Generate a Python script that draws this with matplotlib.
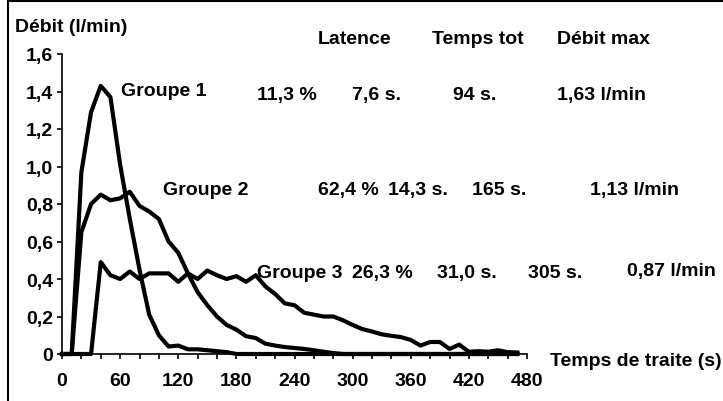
import numpy as np
import matplotlib
matplotlib.use("Agg")
import matplotlib.pyplot as plt
from matplotlib.patches import Rectangle

plt.rcParams['font.family'] = ['Liberation Sans', 'DejaVu Sans']
plt.rcParams['font.weight'] = 'bold'

# time (s), one reading every 10 s
temps = list(range(0, 480, 10))

groupe1 = [0, 0, 0.97, 1.29, 1.43, 1.37, 1.01, 0.72, 0.45, 0.21,
           0.10, 0.04, 0.045, 0.025, 0.025, 0.02, 0.015, 0.01, 0, 0,
           0, 0, 0, 0, 0, 0, 0, 0, 0, 0,
           0, 0, 0, 0, 0, 0, 0, 0, 0, 0,
           0, 0, 0, 0, 0, 0, 0, 0]
groupe2 = [0, 0, 0.65, 0.80, 0.85, 0.82, 0.83, 0.865, 0.79, 0.76,
           0.72, 0.60, 0.54, 0.43, 0.33, 0.26, 0.20, 0.155, 0.13, 0.095,
           0.085, 0.055, 0.045, 0.037, 0.032, 0.027, 0.02, 0.012, 0.005, 0,
           0, 0, 0, 0, 0, 0, 0, 0, 0, 0,
           0, 0, 0, 0, 0, 0, 0, 0]
groupe3 = [0, 0, 0, 0, 0.49, 0.42, 0.40, 0.44, 0.40, 0.43,
           0.43, 0.43, 0.385, 0.43, 0.40, 0.445, 0.42, 0.40, 0.415, 0.385,
           0.42, 0.36, 0.32, 0.27, 0.26, 0.22, 0.21, 0.20, 0.20, 0.18,
           0.155, 0.133, 0.12, 0.105, 0.097, 0.09, 0.075, 0.045, 0.064, 0.064,
           0.027, 0.05, 0.012, 0.015, 0.012, 0.02, 0.01, 0.008]

entetes = ["Latence", "Temps tot", "Débit max"]
noms = ["Groupe 1", "Groupe 2", "Groupe 3"]
pourcent = ["11,3 %", "62,4 %", "26,3 %"]
latence = ["7,6 s.", "14,3 s.", "31,0 s."]
temps_tot = ["94 s.", "165 s.", "305 s."]
debit_max = ["1,63 l/min", "1,13 l/min", "0,87 l/min"]

W, H = 723, 402
FS = 14
fig = plt.figure(figsize=(W / 100, H / 100), dpi=100)
ax = fig.add_axes([62 / W, 1 - 355 / H, 465 / W, 300 / H])

for serie in (groupe1, groupe2, groupe3):
    ax.plot(temps, serie, color='black', lw=3, clip_on=False)

ax.set_xlim(0, 480)
ax.set_ylim(0, 1.6)
ax.set_xticks(range(0, 481, 60))
ax.set_xticks(range(0, 481, 20), minor=True)
ax.set_yticks(np.arange(0, 1.61, 0.2))
ax.set_yticklabels(["0"] + [f"{v:.1f}".replace(".", ",") for v in np.arange(0.2, 1.61, 0.2)])
for s in ['top', 'right']:
    ax.spines[s].set_visible(False)
for s in ['left', 'bottom']:
    ax.spines[s].set_linewidth(1.2)
ax.tick_params(axis='x', which='both', direction='out', length=3.5, width=1.2, pad=9.5, labelsize=FS)
ax.tick_params(axis='y', direction='out', length=3.5, width=1.2, pad=3, labelsize=FS)
for lab in ax.get_xticklabels() + ax.get_yticklabels():
    lab.set_fontweight('bold')


def txt(x, y, s):
    fig.text(x / W, 1 - y / H, s, ha='left', va='baseline', fontsize=FS, fontweight='bold')


txt(15, 32, "Débit (l/min)")
for x, s in zip([318, 432, 557], entetes):
    txt(x, 44, s)

lignes = [
    (96, 100, [121, 257, 352, 453, 557]),
    (195, 195, [163, 318, 388, 472, 590]),
    (278, 278, [257, 352, 437, 528, 627]),
]
for i, (yn, yv, xs) in enumerate(lignes):
    txt(xs[0], yn, noms[i])
    txt(xs[1], yv, pourcent[i])
    txt(xs[2], yv, latence[i])
    txt(xs[3], yv, temps_tot[i])
    txt(xs[4], yv - (2 if i == 2 else 0), debit_max[i])

txt(550, 366, "Temps de traite (s)")

fig.patches.append(Rectangle((8 / W, -0.1), 1.2, 1.1 - 2 / H, transform=fig.transFigure,
                             fill=False, edgecolor='black', lw=1.5))

fig.savefig("out.png", dpi=100)
